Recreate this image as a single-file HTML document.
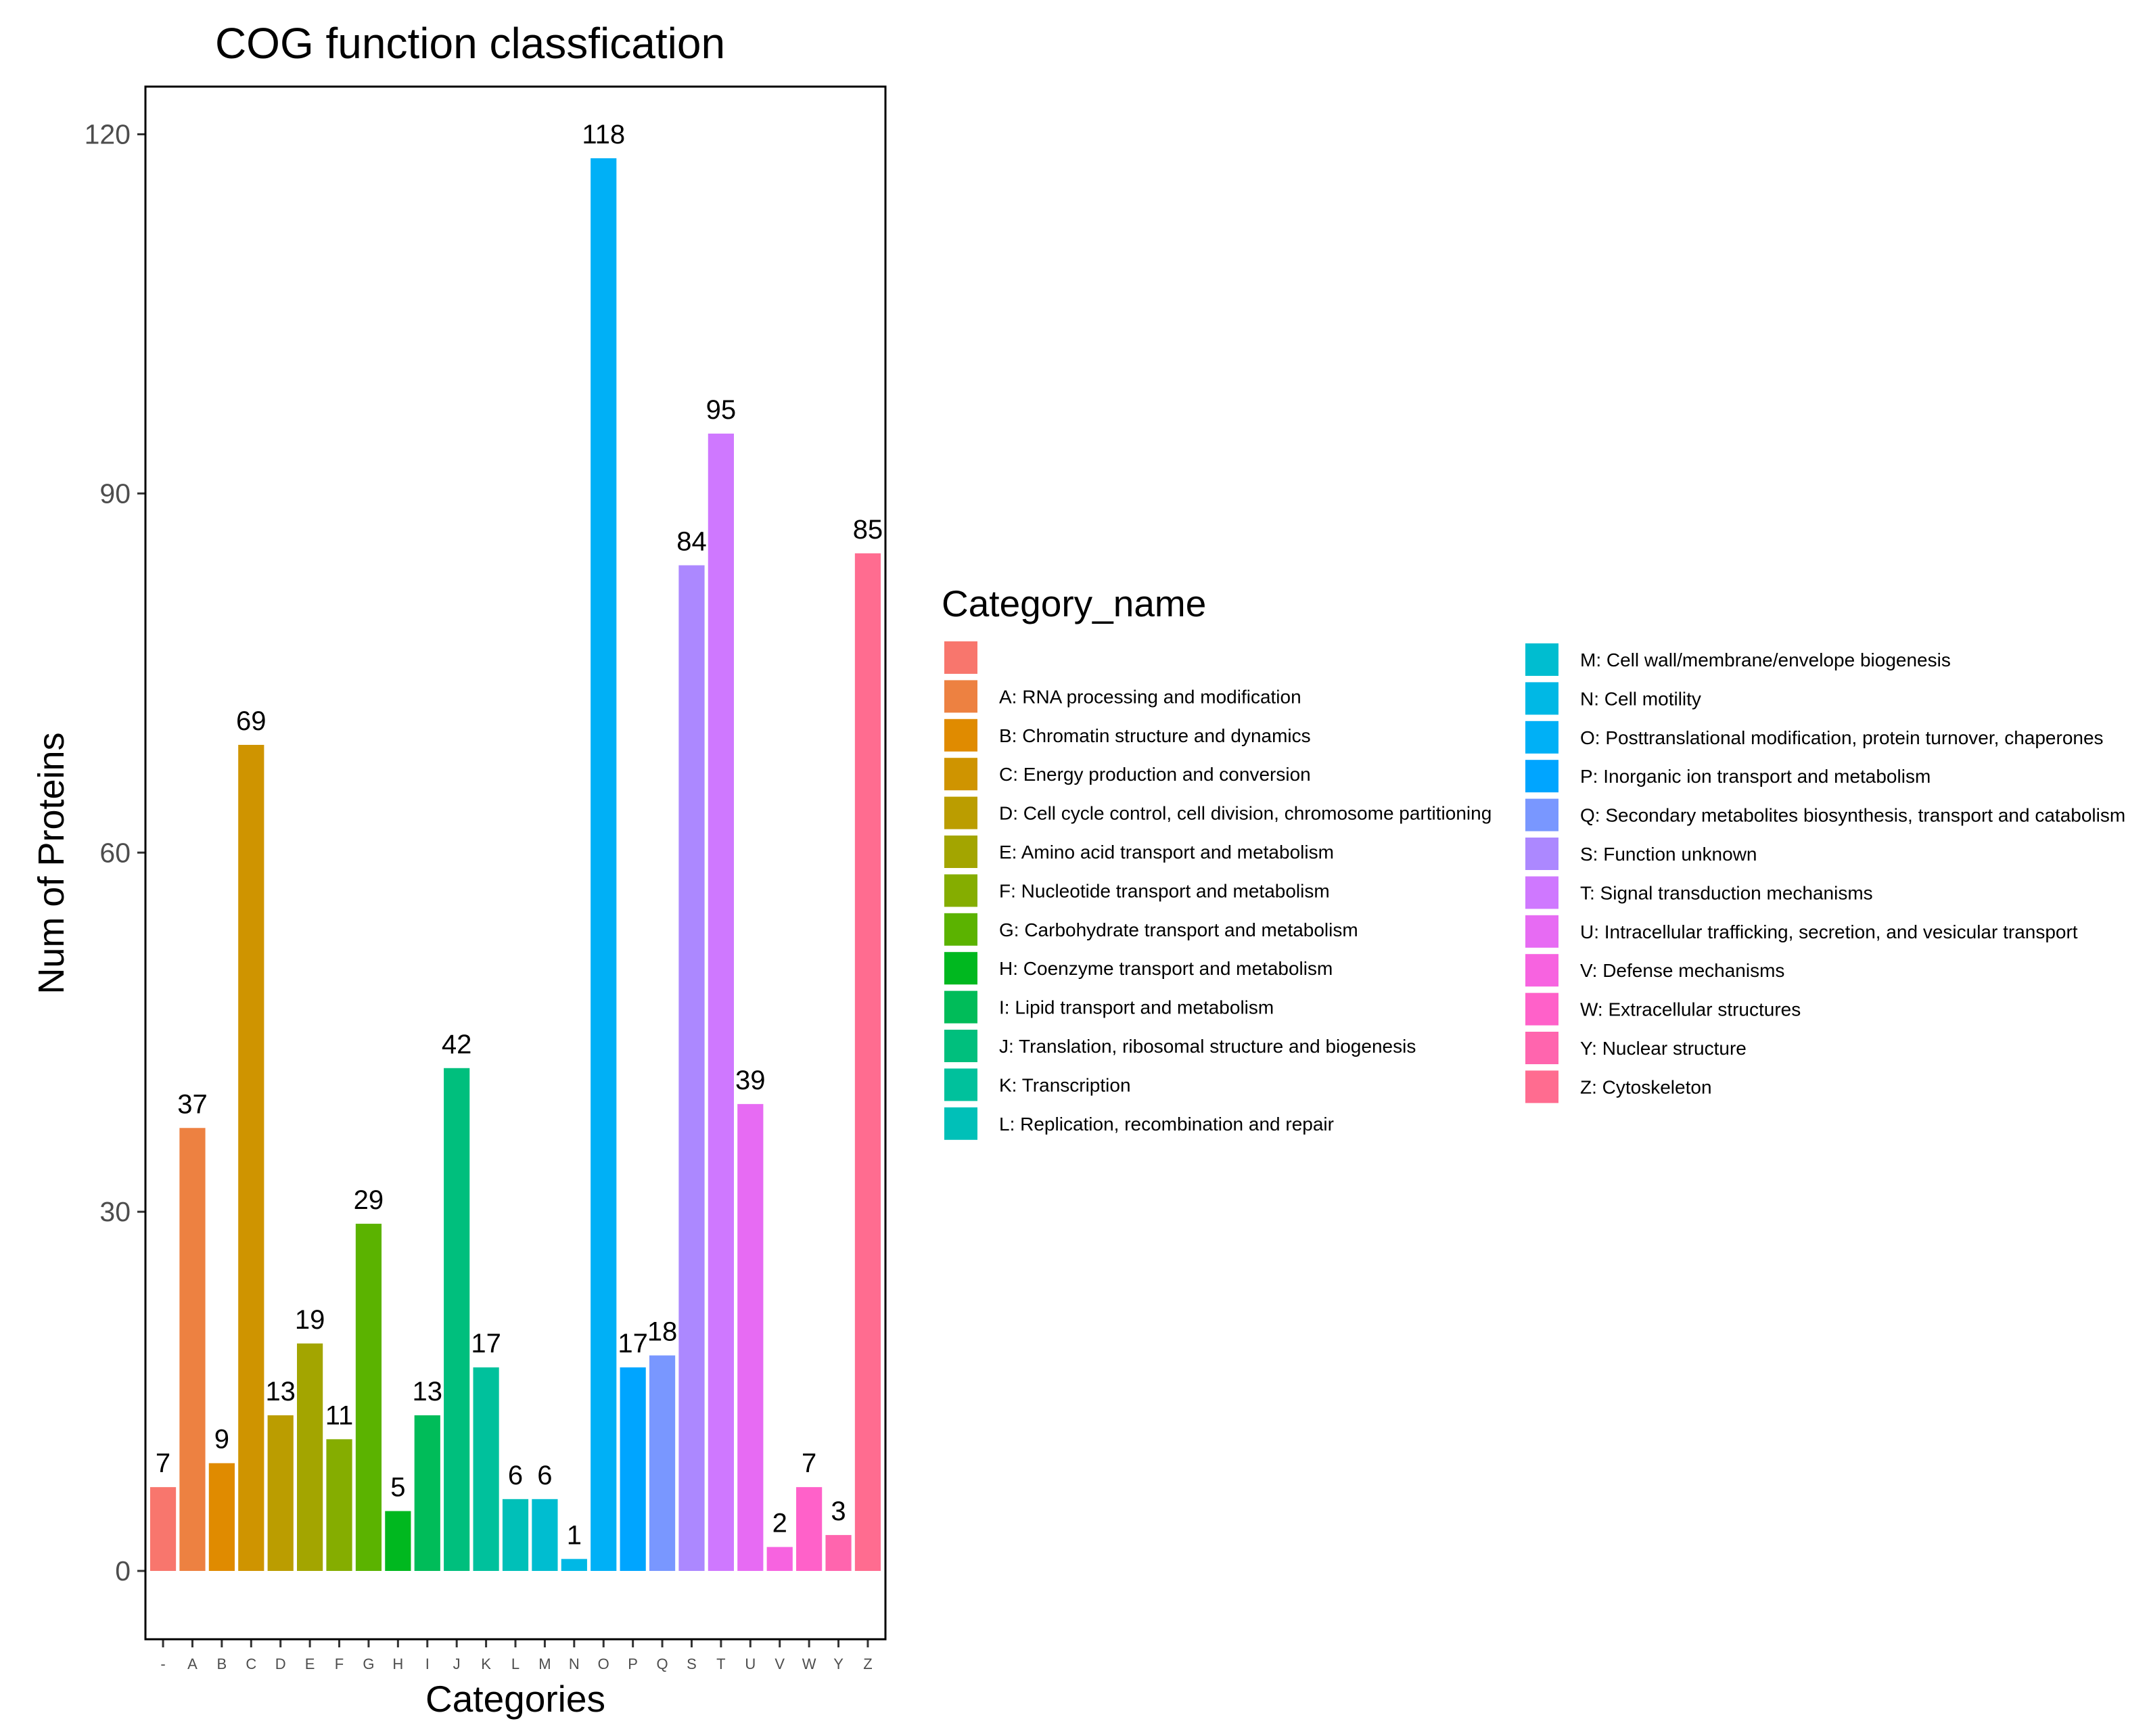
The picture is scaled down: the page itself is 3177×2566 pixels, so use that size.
<!DOCTYPE html>
<html><head><meta charset="utf-8"><style>
html,body{margin:0;padding:0;background:#fff;}
svg{display:block;font-family:"Liberation Sans",Arial,sans-serif;}
</style></head><body>
<svg id="chart" width="3177" height="2566" viewBox="0 0 3177 2566" xmlns="http://www.w3.org/2000/svg">
<rect width="3177" height="2566" fill="#fff"/>
<text x="695" y="86" font-size="64" text-anchor="middle" fill="#000">COG function classfication</text>
<g id="plot"></g>
<rect x="215" y="128" width="1094" height="2295" fill="none" stroke="#000" stroke-width="3"/>
<text x="762" y="2530" font-size="55" text-anchor="middle" fill="#000">Categories</text>
<text transform="translate(94,1276) rotate(-90)" font-size="54" text-anchor="middle" fill="#000">Num of Proteins</text>
<text x="1392" y="911" font-size="55" fill="#000">Category_name</text>
<g id="legend"></g>
</svg>
<script>
const categories = ["-","A","B","C","D","E","F","G","H","I","J","K","L","M","N","O","P","Q","S","T","U","V","W","Y","Z"];
const counts = [7,37,9,69,13,19,11,29,5,13,42,17,6,6,1,118,17,18,84,95,39,2,7,3,85];
const yTicks = [0,30,60,90,120];
const legendLabels = ["","A: RNA processing and modification","B: Chromatin structure and dynamics","C: Energy production and conversion","D: Cell cycle control, cell division, chromosome partitioning","E: Amino acid transport and metabolism","F: Nucleotide transport and metabolism","G: Carbohydrate transport and metabolism","H: Coenzyme transport and metabolism","I: Lipid transport and metabolism","J: Translation, ribosomal structure and biogenesis","K: Transcription","L: Replication, recombination and repair","M: Cell wall/membrane/envelope biogenesis","N: Cell motility","O: Posttranslational modification, protein turnover, chaperones","P: Inorganic ion transport and metabolism","Q: Secondary metabolites biosynthesis, transport and catabolism","S: Function unknown","T: Signal transduction mechanisms","U: Intracellular trafficking, secretion, and vesicular transport","V: Defense mechanisms","W: Extracellular structures","Y: Nuclear structure","Z: Cytoskeleton"];

const NS="http://www.w3.org/2000/svg";
function mk(tag,attrs,parent){const e=document.createElementNS(NS,tag);for(const k in attrs)e.setAttribute(k,attrs[k]);parent.appendChild(e);return e;}
function hcl(h,c,l){
  const hr=h*Math.PI/180,u=c*Math.cos(hr),v=c*Math.sin(hr);
  const Y=l>8?Math.pow((l+16)/116,3):l/903.3;
  const un=0.19784,vn=0.46834;
  const up=u/(13*l)+un,vp=v/(13*l)+vn;
  const X=Y*9*up/(4*vp),Z=Y*(12-3*up-20*vp)/(4*vp);
  const lin=[3.2406*X-1.5372*Y-0.4986*Z,-0.9689*X+1.8758*Y+0.0415*Z,0.0557*X-0.2040*Y+1.0570*Z];
  const g=lin.map(x=>{x=Math.max(0,Math.min(1,x));x=x<=0.0031308?12.92*x:1.055*Math.pow(x,1/2.4)-0.055;return Math.round(x*255);});
  return "rgb("+g.join(",")+")";
}
const nCat=categories.length;
const barColors=categories.map((_,i)=>hcl(15+i*360/nCat,100,65));
const panelLeft=215,panelWidth=1094,panelBottom=2423;
const catStep=panelWidth/(nCat-1+1.2);
const xPos=i=>panelLeft+catStep*(0.6+i);
const yZero=2322,yUnit=(2322-198.5)/120;
const yPos=v=>yZero-v*yUnit;
const plotG=document.getElementById('plot');
yTicks.forEach(t=>{
  const tk=mk('line',{x1:panelLeft-12,x2:panelLeft,y1:yPos(t),y2:yPos(t),stroke:'#333','stroke-width':3},plotG);
  
  
  const lb=mk('text',{x:panelLeft-22,y:yPos(t)+14,'font-size':41,'text-anchor':'end',fill:'#4d4d4d'},plotG);
  lb.textContent=t;
  
  
});
const barW=catStep*0.88;
categories.forEach((c,i)=>{
  const x=xPos(i),v=counts[i];
  const b=mk('rect',{x:x-barW/2,y:yPos(v),width:barW,height:yZero-yPos(v),fill:barColors[i]},plotG);
  
  
  const vl=mk('text',{x:x,y:yPos(v)-22,'font-size':40,'text-anchor':'middle',fill:'#000'},plotG);
  vl.textContent=v;
  
  
  const tk=mk('line',{x1:x,x2:x,y1:panelBottom,y2:panelBottom+12,stroke:'#333','stroke-width':3},plotG);
  
  
  const xl=mk('text',{x:x,y:panelBottom+44,'font-size':22,'text-anchor':'middle',fill:'#4d4d4d'},plotG);
  xl.textContent=c;
  
  
});
const legendG=document.getElementById('legend');
const lstep=57.4;
legendLabels.forEach((lab,i)=>{
  const col=i<13?0:1, row=i<13?i:i-13;
  const kx=col?2255:1396, cy=(col?975:972)+row*lstep;
  const k=mk('rect',{x:kx,y:cy-24,width:49,height:48,fill:barColors[i]},legendG);
  
  
  const t=mk('text',{x:col?2336:1477,y:cy+10,'font-size':28,fill:'#000'},legendG);
  t.textContent=lab;
  
  
});
</script>
</body></html>
